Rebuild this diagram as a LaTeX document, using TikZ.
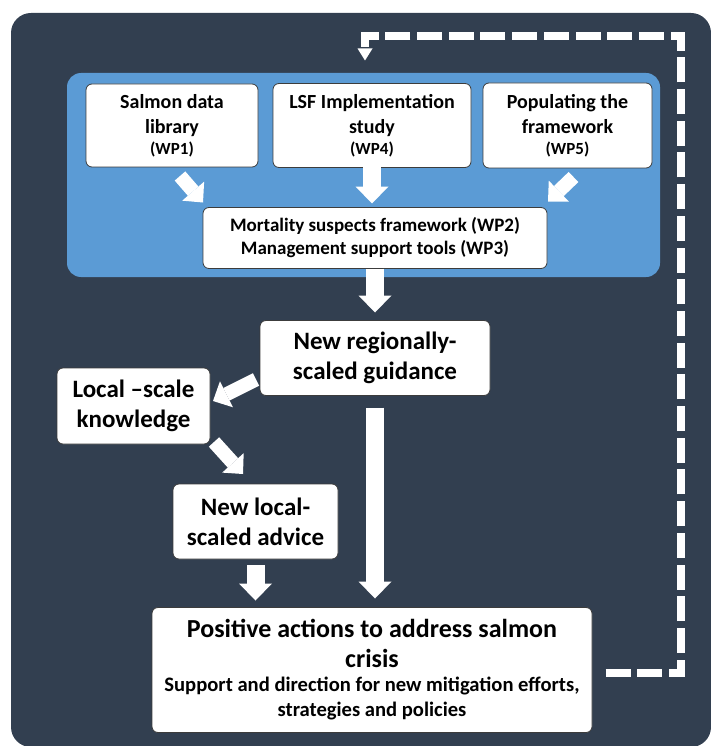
\documentclass[tikz,border=0pt]{standalone}
\usepackage{fontspec}
\setmainfont{Carlito}
\usetikzlibrary{arrows.meta,positioning,backgrounds}

\definecolor{slate}{RGB}{50,63,80}
\definecolor{panelblue}{RGB}{91,155,213}
\definecolor{boxline}{RGB}{60,60,60}

\newcommand{\wpnum}[1]{{\fontsize{17}{21}\selectfont(WP#1)}}
\newcommand{\subline}[1]{{\fontsize{20.6}{25}\selectfont #1}}

\begin{document}
\begin{tikzpicture}[
  x=1pt, y=-1pt,
  wpbox/.style={draw=boxline, fill=white, line width=0.8pt, rounded corners=6pt, align=center,
    inner sep=0pt, outer sep=0pt, font=\fontsize{20}{25}\selectfont\bfseries},
  bigbox/.style={wpbox, font=\fontsize{25}{30}\selectfont\bfseries},
  blockarrow/.style={draw=white, line width=18pt, -{Triangle[width=33pt,length=17pt,line width=0pt]}},
  diagarrow/.style={draw=white, line width=14pt, -{Triangle[width=29pt,length=15pt,line width=0pt]}},
  feedback/.style={draw=white, line width=8pt, dash pattern=on 25pt off 6.7pt, dash phase=25.2pt,
    -{Triangle[width=15pt,length=12pt,line width=0pt]}}
]
\useasboundingbox (0,0) rectangle (710,746);

% work packages
\node[wpbox, minimum width=172pt, minimum height=83pt] (salmon) at (172,125.5) {Salmon data\\library\\[-4pt]\wpnum{1}};
\node[wpbox, minimum width=198pt, minimum height=84pt, right=15pt of salmon] (lsf) {LSF Implementation\\study\\[-4pt]\wpnum{4}};
\node[wpbox, minimum width=169pt, minimum height=85pt, right=12pt of lsf] (pop) {Populating the\\framework\\[-4pt]\wpnum{5}};
\node[wpbox, minimum width=344pt, minimum height=61pt, below=40pt of lsf, xshift=3pt,
  font=\fontsize{19}{23}\selectfont\bfseries] (mort) {Mortality suspects framework (WP2)\\Management support tools (WP3)};

% guidance and advice
\node[bigbox, minimum width=230pt, minimum height=75pt, below=52pt of mort] (region) {New regionally-\\scaled guidance};
\node[bigbox, minimum width=153pt, minimum height=76pt] (local) at (133.5,406) {Local –scale\\knowledge};
\node[bigbox, minimum width=165pt, minimum height=75pt] (advice) at (255.5,521.5) {New local-\\scaled advice};
\node[bigbox, minimum width=440pt, minimum height=125pt, below=212pt of region, xshift=-3pt,
  font=\fontsize{26}{30}\selectfont\bfseries] (positive)
  {Positive actions to address salmon\\crisis\\[-6pt]\subline{Support and direction for new mitigation efforts,}\\[-5pt]\subline{strategies and policies}};

\begin{scope}[on background layer]
\fill[slate, rounded corners=20pt] (11,13) rectangle (711,747);
\fill[panelblue, rounded corners=14pt] (67,73) rectangle (660,277);
\end{scope}

% arrows
\draw[diagarrow] ([shift={(8,9)}]salmon.south) -- ([shift={(0,-5)}]mort.north west);
\draw[blockarrow, shorten >=4pt] (lsf.south) -- (lsf.south |- mort.north);
\draw[diagarrow] ([shift={(6,9)}]pop.south) -- ([shift={(1,-6)}]mort.north east);
\draw[blockarrow, shorten >=8pt] (mort.south) -- (region.north);
\draw[diagarrow] ([shift={(-4,-16)}]region.south west) -- ([shift={(3,-5)}]local.east);
\draw[diagarrow] ([shift={(4,-2)}]local.south east) -- ([shift={(-12.5,-10)}]advice.north);
\draw[blockarrow, shorten <=6pt, shorten >=7pt] (advice.south) -- (advice.south |- positive.north);
\draw[blockarrow, shorten <=12pt, shorten >=9pt] (region.south) -- (region.south |- positive.north);

% feedback loop
\coordinate (fbcorner) at (681,36);
\draw[feedback] ([shift={(7,2.5)}]positive.east) -| (fbcorner) -| ([shift={(-7,-23)}]lsf.north);
\end{tikzpicture}
\end{document}
